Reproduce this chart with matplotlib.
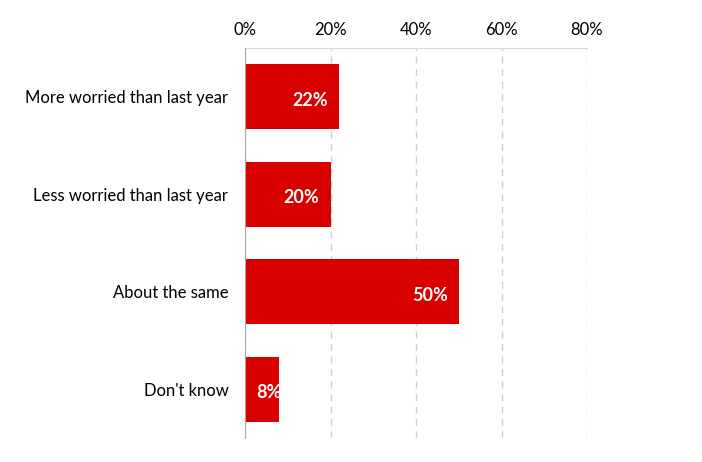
import matplotlib
matplotlib.use("Agg")
import matplotlib.pyplot as plt
from matplotlib.ticker import FuncFormatter

categories = ["More worried than last year", "Less worried than last year", "About the same", "Don't know"]
values = [22, 20, 50, 8]
ticks = [0, 20, 40, 60, 80]

plt.rcParams['font.family'] = ['Lato', 'DejaVu Sans']

fig = plt.figure(figsize=(7.02, 4.62), dpi=100)
ax = fig.add_axes([245/702, 1-438/462, 342/702, 390/462])

red = "#D90000"
ypos = list(range(len(categories)))
bars = ax.barh(ypos, values, height=0.67, color=red, zorder=3)

ax.set_xlim(0, 80)
ax.set_ylim(len(categories)-0.5, -0.5)
ax.set_xticks(ticks)
ax.xaxis.set_major_formatter(FuncFormatter(lambda v, p: f"{v:.0f}%"))
ax.xaxis.tick_top()
ax.tick_params(axis='x', length=0, pad=7, labelsize=12, colors='#000000')
ax.set_yticks(ypos)
ax.set_yticklabels(categories)
ax.tick_params(axis='y', length=0, pad=12, labelsize=12)

ax.grid(axis='x', color='#d0d0d0', linestyle=(0, (5, 4)), linewidth=1, zorder=0)
for s in ['right', 'bottom']:
    ax.spines[s].set_visible(False)
ax.spines['top'].set_color('#d9d9d9')
ax.spines['left'].set_color('#a6a6a6')
ax.spines['left'].set_zorder(4)

for b, v in zip(bars, values):
    y = b.get_y() + b.get_height()/2
    if v >= 15:
        t = ax.annotate(f"{v}%", xy=(v, y), xytext=(-8, -2.5), textcoords='offset points',
                        ha='right', va='center', color='white', fontweight='bold', fontsize=13, zorder=5)
    else:
        t = ax.annotate(f"{v}%", xy=(0, y), xytext=(8, -2.5), textcoords='offset points',
                        ha='left', va='center', color='white', fontweight='bold', fontsize=13, zorder=5)
        t.set_clip_path(b)

fig.savefig("out.png", dpi=100)
